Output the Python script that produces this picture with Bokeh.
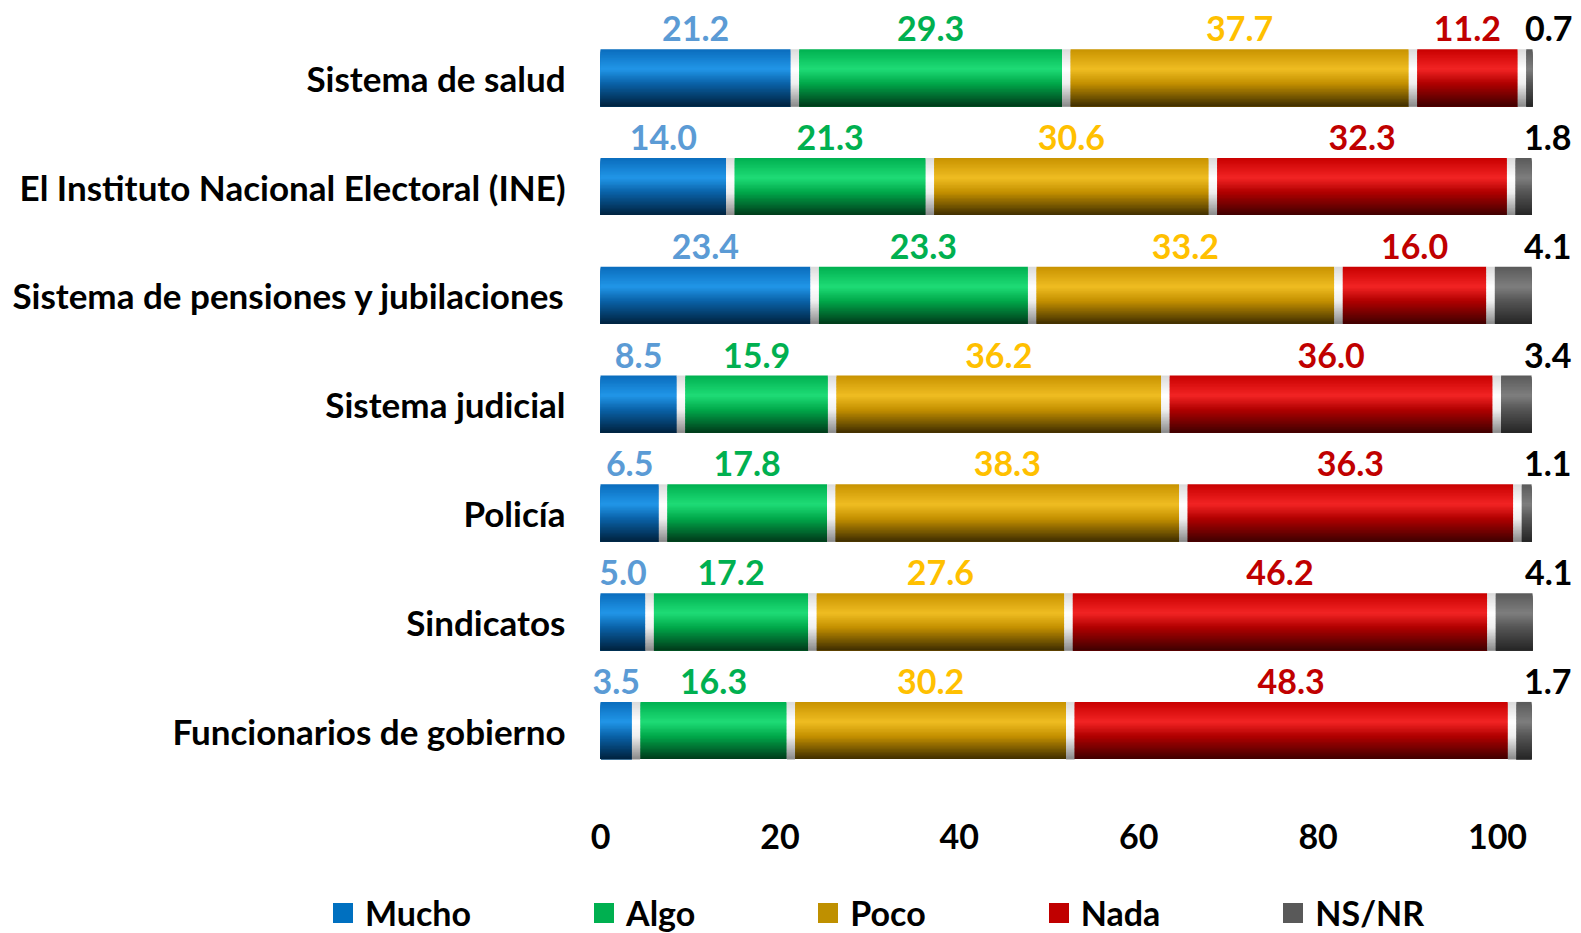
import numpy as np
from bokeh.plotting import figure
from bokeh.models import (ColumnDataSource, Range1d, FixedTicker,
                          Legend, LegendItem)
from bokeh.core.properties import value
from bokeh.embed import file_html
from bokeh.resources import INLINE

# ---------------- data ----------------
categories = ["Sistema de salud",
              "El Instituto Nacional Electoral (INE)",
              "Sistema de pensiones y jubilaciones",
              "Sistema judicial",
              "Policía",
              "Sindicatos",
              "Funcionarios de gobierno"]
series_names = ["Mucho", "Algo", "Poco", "Nada", "NS/NR"]
mucho = [21.2, 14.0, 23.4, 8.5, 6.5, 5.0, 3.5]
algo = [29.3, 21.3, 23.3, 15.9, 17.8, 17.2, 16.3]
poco = [37.7, 30.6, 33.2, 36.2, 38.3, 27.6, 30.2]
nada = [11.2, 32.3, 16.0, 36.0, 36.3, 46.2, 48.3]
nsnr = [0.7, 1.8, 4.1, 3.4, 1.1, 4.1, 1.7]
x_ticks = [0, 20, 40, 60, 80, 100]

# ---------------- styles ----------------
FONT = "Lato"
legend_colors = ["#0070C0", "#00B050", "#BF9000", "#C00000", "#595959"]
label_colors = ["#5B9BD5", "#00B050", "#FFC000", "#C00000", "#000000"]
grad = {
    "Mucho": [(0.0, "#0A6CBC"), (0.35, "#2196E8"), (0.6, "#0A62A8"), (1.0, "#00223F")],
    "Algo": [(0.0, "#00B050"), (0.35, "#1FDC76"), (0.6, "#00A84A"), (1.0, "#003A1A")],
    "Poco": [(0.0, "#C89200"), (0.35, "#EFBD22"), (0.6, "#C49000"), (1.0, "#3F2E00")],
    "Nada": [(0.0, "#C80000"), (0.35, "#F22424"), (0.6, "#B00000"), (1.0, "#400000")],
    "NS/NR": [(0.0, "#5A5A5A"), (0.35, "#7E7E7E"), (0.6, "#555555"), (1.0, "#262626")],
    "sep": [(0.0, "#DADADA"), (0.35, "#FFFFFF"), (0.6, "#EFEFEF"), (1.0, "#8A8A8A")],
}
GAP = 0.95      # separator width (x units)
BAR_H = 0.525   # bar thickness (category units)
NSTRIP = 40
LABEL_DY = 0.45  # value labels above bar centre (category units)


def hex2rgb(h):
    return np.array([int(h[i:i + 2], 16) for i in (1, 3, 5)], dtype=float)


def grad_color(stops, t):
    for (t0, c0), (t1, c1) in zip(stops[:-1], stops[1:]):
        if t0 <= t <= t1:
            f = (t - t0) / (t1 - t0)
            c = hex2rgb(c0) * (1 - f) + hex2rgb(c1) * f
            return "#%02x%02x%02x" % tuple(int(round(v)) for v in c)
    return stops[-1][1]


values = np.array([mucho, algo, poco, nada, nsnr])  # (5, 7)
n = len(categories)
ypos = {cat: n - 1 - i for i, cat in enumerate(categories)}  # top first

rows = {"y": [], "left": [], "right": [], "kind": []}
lab = {"y": [], "x": [], "text": [], "color": []}
ns_lab = {"y": [], "x": [], "text": []}
for ci, cat in enumerate(categories):
    pos = 0.0
    yc = ypos[cat]
    for si in range(5):
        v = values[si, ci]
        left, right = pos, pos + v
        rows["y"].append(yc); rows["left"].append(left)
        rows["right"].append(right); rows["kind"].append(series_names[si])
        if si < 4:
            lab["y"].append(yc + LABEL_DY); lab["x"].append((left + right) / 2)
            lab["text"].append("%.1f" % v); lab["color"].append(label_colors[si])
            rows["y"].append(yc); rows["left"].append(right)
            rows["right"].append(right + GAP); rows["kind"].append("sep")
            pos = right + GAP
        else:
            ns_lab["y"].append(yc + LABEL_DY); ns_lab["x"].append(right)
            ns_lab["text"].append("%.1f" % v)

# gradient: strip j runs from its own top edge down to the bar bottom,
# later strips paint over the lower part of earlier ones (no seams)
rows["y"] = np.array(rows["y"], dtype=float)
step = BAR_H / NSTRIP
for j in range(NSTRIP):
    t = (j + 0.5) / NSTRIP
    hj = BAR_H - j * step
    rows["c%d" % j] = [grad_color(grad[k], t) for k in rows["kind"]]
    rows["y%d" % j] = rows["y"] - BAR_H / 2 + hj / 2
    rows["h%d" % j] = np.full(len(rows["y"]), hj)

seg_src = ColumnDataSource(rows)
lab_src = ColumnDataSource(lab)
ns_src = ColumnDataSource(ns_lab)
sw_src = ColumnDataSource({"y": [ypos[categories[0]]] * 5, "zero": [0.0] * 5,
                           "name": series_names, "color": legend_colors})

# ---------------- figure ----------------
W, H = 1581, 933
PX = 8.97          # pixels per x unit
PY = 108.8         # pixels per category step
X0 = 600           # pixel column of x = 0
Y_TOP = 77.2       # pixel row of the top bar centre
x_start = -X0 / PX
x_end = x_start + W / PX
y_end = (n - 1) + Y_TOP / PY
y_start = y_end - H / PY

p = figure(width=W, height=H, output_backend="svg", toolbar_location=None,
           x_range=Range1d(x_start, x_end), y_range=Range1d(y_start, y_end),
           min_border_left=0, min_border_right=0, min_border_top=0,
           min_border_bottom=0)
p.outline_line_color = None
p.background_fill_color = "white"
p.border_fill_color = "white"
p.grid.visible = False

for j in range(NSTRIP):
    p.hbar(y="y%d" % j, left="left", right="right", height="h%d" % j,
           fill_color="c%d" % j, line_color=None, source=seg_src)

p.text(x="x", y="y", text="text", text_color="color", text_font=value(FONT),
       text_font_style="bold", text_font_size="34px", text_align="center",
       text_baseline="middle", source=lab_src)
p.text(x="x", y="y", text="text", text_color="#000000", text_font=value(FONT),
       text_font_style="bold", text_font_size="34px", text_align="right",
       text_baseline="middle", x_offset=40, source=ns_src)

# x axis, drawn inside the canvas below the bars
xa = p.xaxis[0]
xa.fixed_location = y_end - 800 / PY
xa.ticker = FixedTicker(ticks=x_ticks)
xa.axis_line_color = None
xa.major_tick_line_color = None
xa.minor_tick_line_color = None
xa.major_label_text_font = FONT
xa.major_label_text_font_style = "bold"
xa.major_label_text_font_size = "34px"
xa.major_label_text_color = "#000000"
xa.major_label_standoff = 17

# category axis
ya = p.yaxis[0]
ya.fixed_location = x_start + 580 / PX
ya.ticker = FixedTicker(ticks=[ypos[c] for c in categories])
ya.major_label_overrides = {ypos[c]: c for c in categories}
ya.axis_line_color = None
ya.major_tick_line_color = None
ya.minor_tick_line_color = None
ya.major_label_text_font = FONT
ya.major_label_text_font_style = "bold"
ya.major_label_text_font_size = "35px"
ya.major_label_text_color = "#000000"
ya.major_label_standoff = 9

# legend (zero-length swatch bars carry the series colours)
sw = p.hbar(y="y", left="zero", right="zero", height=0, fill_color="color",
            line_color=None, source=sw_src)
items = [LegendItem(label=name, renderers=[sw], index=i)
         for i, name in enumerate(series_names)]
legend = Legend(items=items, orientation="horizontal", location=(330, 0),
                glyph_width=25, glyph_height=25, label_standoff=10,
                spacing=120, padding=0, margin=0, border_line_color=None,
                background_fill_alpha=0, label_text_font=FONT,
                label_text_font_style="bold", label_text_font_size="34px",
                label_text_color="#000000", label_text_baseline="middle")
p.add_layout(legend, "center")

open("out.html", "w").write(file_html(p, INLINE))
